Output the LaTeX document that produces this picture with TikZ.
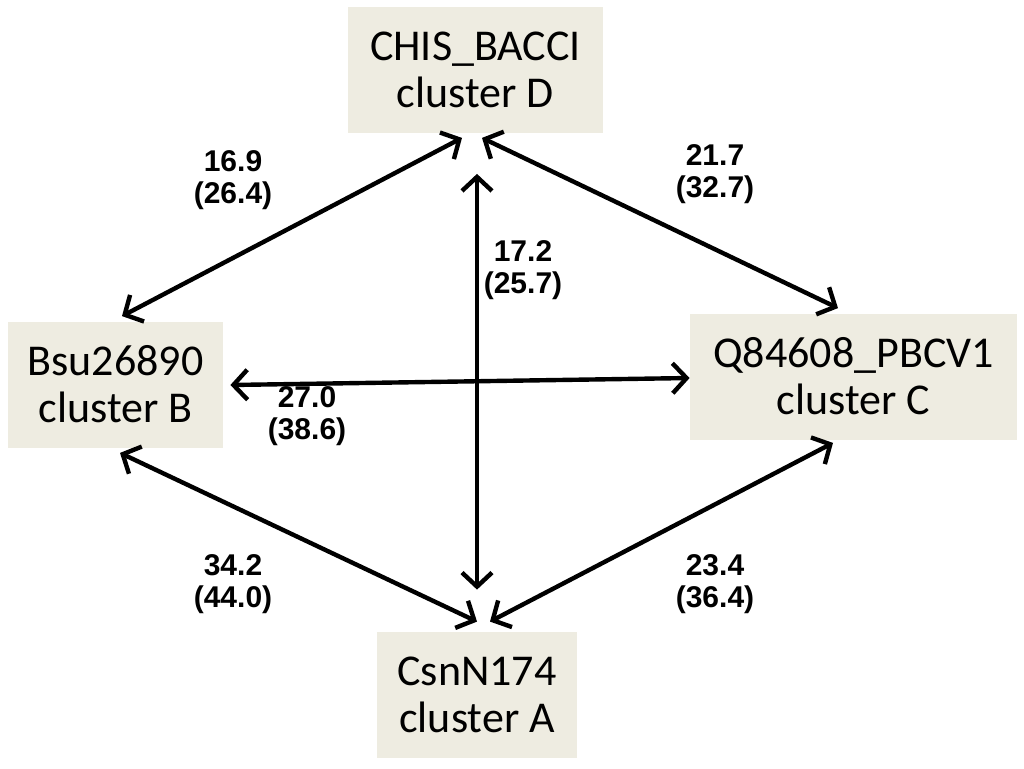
\documentclass[tikz,border=0pt]{standalone}
\usepackage{fontspec}
\newfontfamily\boxfont{Carlito}
\newfontfamily\numfont{Liberation Sans}
\usepackage{tikz}
\usetikzlibrary{arrows.meta,positioning,calc}
\definecolor{boxfill}{HTML}{EEECE1}
\tikzset{
  clusterbox/.style = {fill=boxfill, inner sep=0pt, align=center, font=\boxfont\fontsize{22}{23.5}\selectfont, minimum height=63pt},
  weight/.style = {align=center, font=\numfont\bfseries\fontsize{15}{16}\selectfont},
  biarrow/.style = {{Straight Barb[length=7pt,width=15pt]}-{Straight Barb[length=7pt,width=15pt]}, line width=2.2pt},
}
\begin{document}
\begin{tikzpicture}[x=0.5pt, y=-0.5pt]
\useasboundingbox (0,0) rectangle (1024,768);

% clusters
\node[clusterbox, minimum width=127.5pt] (D) at (475.5,69.5) {CHIS\_BACCI\\cluster D};
\node[clusterbox, minimum width=107.5pt] (B) at (115.5,384.5) {Bsu26890\\cluster B};
\node[clusterbox, minimum width=163.5pt] (C) at (853.5,376.5) {Q84608\_PBCV1\\cluster C};
\node[clusterbox, minimum width=100pt] (A) at (477,695) {CsnN174\\cluster A};

% distances between clusters
\draw[biarrow] ($(D.south)+(-13.5,5)$) -- ($(B.north)+(6.5,-5)$);
\draw[biarrow] ($(D.south)+(6.5,5)$) -- ($(C.north)+(-15.5,-5)$);
\draw[biarrow] ($(D.south)+(1.5,41)$) -- ($(A.north)+(0,-42)$);
\draw[biarrow] ($(B.east)+(7,0.5)$) -- ($(C.west)+(0,1.5)$);
\draw[biarrow] ($(B.south)+(4.5,5)$) -- ($(A.north)+(0,-10)$);
\draw[biarrow] ($(A.north)+(13,-10)$) -- ($(C.south)+(-20.5,3)$);

% labels
\node[weight] (wDB) at (233,180) {16.9\\(26.4)};
\node[weight] (wDC) at (715,174) {21.7\\(32.7)};
\node[weight] (wDA) at (523,270) {17.2\\(25.7)};
\node[weight] (wBC) at (307,416) {27.0\\(38.6)};
\node[weight] (wBA) at (233,584) {34.2\\(44.0)};
\node[weight] (wAC) at (715,584) {23.4\\(36.4)};

\end{tikzpicture}
\end{document}
